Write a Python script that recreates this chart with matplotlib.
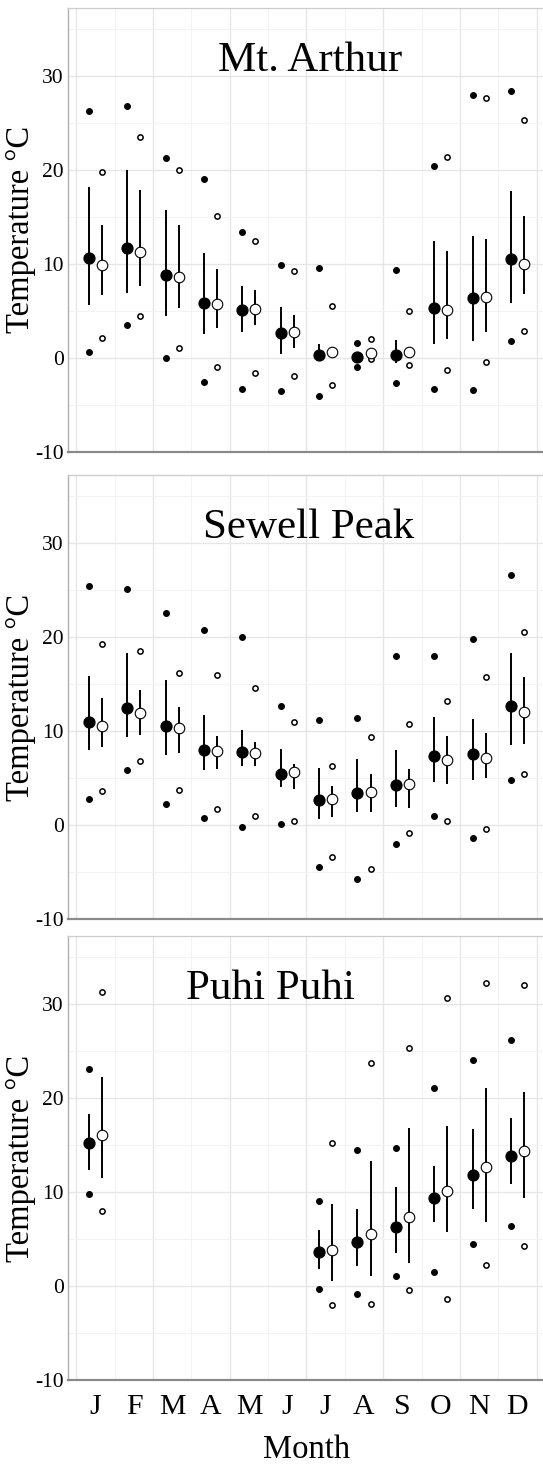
import numpy as np
import matplotlib
matplotlib.use("Agg")
import matplotlib.pyplot as plt

plt.rcParams['font.family'] = ['Liberation Serif', 'DejaVu Serif']
plt.rcParams['axes.unicode_minus'] = False

nan = np.nan
months = np.arange(1, 13)
month_labels = ["J", "F", "M", "A", "M", "J", "J", "A", "S", "O", "N", "D"]
sites = ["Mt. Arthur", "Sewell Peak", "Puhi Puhi"]

# filled series (black) and open series (white): mean, bar low/high, extreme min/max
arthur_f_mean = [10.6, 11.7, 8.8, 5.8, 5.1, 2.6, 0.3, 0.1, 0.3, 5.3, 6.4, 10.5]
arthur_f_lo = [5.6, 6.9, 4.4, 2.5, 2.8, 0.4, -0.2, -0.2, -0.5, 1.5, 1.8, 5.8]
arthur_f_hi = [18.2, 20.0, 15.7, 11.1, 7.6, 5.4, 1.5, 0.5, 1.9, 12.4, 13.0, 17.7]
arthur_f_min = [0.6, 3.5, 0.0, -2.6, -3.3, -3.5, -4.1, -1.0, -2.7, -3.3, -3.4, 1.8]
arthur_f_max = [26.2, 26.8, 21.2, 19.0, 13.4, 9.9, 9.5, 1.6, 9.3, 20.4, 27.9, 28.4]

arthur_o_mean = [9.9, 11.3, 8.6, 5.7, 5.2, 2.7, 0.6, 0.5, 0.6, 5.1, 6.5, 10.0]
arthur_o_lo = [6.7, 7.6, 5.3, 3.2, 3.5, 1.1, 0.2, 0.2, 0.3, 2.0, 2.7, 6.8]
arthur_o_hi = [14.1, 17.8, 14.1, 9.4, 7.2, 4.6, 0.9, 0.8, 0.9, 11.4, 12.6, 15.1]
arthur_o_min = [2.1, 4.5, 1.0, -1.0, -1.6, -1.9, -2.9, -0.1, -0.8, -1.3, -0.4, 2.9]
arthur_o_max = [19.8, 23.5, 20.0, 15.1, 12.4, 9.2, 5.5, 2.0, 5.0, 21.4, 27.6, 25.3]

sewell_f_mean = [10.9, 12.4, 10.5, 8.0, 7.8, 5.4, 2.7, 3.4, 4.2, 7.3, 7.5, 12.6]
sewell_f_lo = [8.0, 9.4, 7.4, 5.8, 6.3, 4.0, 0.6, 1.4, 1.9, 4.6, 4.8, 8.5]
sewell_f_hi = [15.8, 18.3, 15.4, 11.7, 10.1, 8.1, 6.1, 7.0, 8.0, 11.5, 11.3, 18.3]
sewell_f_min = [2.8, 5.8, 2.2, 0.7, -0.25, 0.1, -4.5, -5.7, -2.0, 0.9, -1.4, 4.8]
sewell_f_max = [25.4, 25.1, 22.5, 20.7, 20.0, 12.6, 11.2, 11.4, 18.0, 18.0, 19.8, 26.6]

sewell_o_mean = [10.5, 11.9, 10.3, 7.9, 7.7, 5.6, 2.8, 3.5, 4.3, 6.9, 7.1, 12.0]
sewell_o_lo = [8.3, 9.6, 7.7, 5.9, 6.3, 3.8, 0.8, 1.4, 1.8, 4.4, 5.0, 8.6]
sewell_o_hi = [13.5, 14.3, 12.5, 9.5, 8.8, 6.5, 4.1, 5.4, 6.0, 9.5, 9.8, 15.7]
sewell_o_min = [3.6, 6.8, 3.7, 1.7, 0.9, 0.4, -3.4, -4.7, -0.85, 0.4, -0.4, 5.4]
sewell_o_max = [19.2, 18.5, 16.2, 15.9, 14.6, 10.9, 6.3, 9.3, 10.7, 13.2, 15.7, 20.5]

puhi_f_mean = [15.2, nan, nan, nan, nan, nan, 3.6, 4.7, 6.3, 9.4, 11.8, 13.8]
puhi_f_lo = [12.3, nan, nan, nan, nan, nan, 1.8, 2.1, 3.5, 6.8, 8.2, 10.8]
puhi_f_hi = [18.3, nan, nan, nan, nan, nan, 5.9, 8.2, 10.5, 12.8, 16.7, 17.9]
puhi_f_min = [9.8, nan, nan, nan, nan, nan, -0.3, -0.9, 1.1, 1.5, 4.5, 6.4]
puhi_f_max = [23.1, nan, nan, nan, nan, nan, 9.0, 14.5, 14.7, 21.0, 24.0, 26.1]

puhi_o_mean = [16.0, nan, nan, nan, nan, nan, 3.8, 5.5, 7.3, 10.1, 12.7, 14.3]
puhi_o_lo = [11.5, nan, nan, nan, nan, nan, 0.5, 1.1, 2.4, 5.7, 6.8, 9.4]
puhi_o_hi = [22.2, nan, nan, nan, nan, nan, 8.7, 13.3, 16.8, 17.0, 21.1, 20.6]
puhi_o_min = [8.0, nan, nan, nan, nan, nan, -2.0, -1.9, -0.4, -1.4, 2.2, 4.2]
puhi_o_max = [31.3, nan, nan, nan, nan, nan, 15.2, 23.7, 25.3, 30.6, 32.2, 32.0]

title_x = [6.6, 6.55, 5.55]
title_y = 31.6


def draw_series(ax, x, mean, lo, hi, mn, mx, face):
    x = np.asarray(x)
    ax.vlines(x, lo, hi, color="black", linewidth=1.4, zorder=3)
    if face == "black":
        ax.plot(x, mn, "o", ms=4.0, color="black", zorder=4)
        ax.plot(x, mx, "o", ms=4.0, color="black", zorder=4)
        ax.plot(x, mean, "o", ms=7.8, color="black", zorder=5)
    else:
        ax.plot(x, mn, "o", ms=3.8, mfc="white", mec="black", mew=1.1, zorder=4)
        ax.plot(x, mx, "o", ms=3.8, mfc="white", mec="black", mew=1.1, zorder=4)
        ax.plot(x, mean, "o", ms=7.6, mfc="white", mec="black", mew=0.8, zorder=5)


def style_axes(ax, last):
    ax.set_xlim(0.28, 12.72)
    ax.set_ylim(-10, 37.2)
    ax.set_xticks(np.arange(0.5, 13, 2))
    ax.set_xticks(np.arange(1.5, 13, 2), minor=True)
    ax.set_yticks([-10, 0, 10, 20, 30])
    ax.set_yticks([-5, 5, 15, 25, 35], minor=True)
    ax.grid(which="major", color="#e6e6e6", linewidth=1.0)
    ax.grid(which="minor", color="#f3f3f3", linewidth=0.8)
    ax.set_axisbelow(True)
    ax.tick_params(which="both", length=0)
    ax.tick_params(axis="y", labelsize=15.5, pad=3)
    ax.set_xticklabels([])
    ax.spines["right"].set_visible(False)
    ax.spines["left"].set_color("#b0b0b0")
    ax.spines["left"].set_linewidth(1.0)
    ax.spines["top"].set_color("#cccccc")
    ax.spines["top"].set_linewidth(0.9)
    ax.spines["bottom"].set_color("#8a8a8a")
    ax.spines["bottom"].set_linewidth(1.6)
    ax.set_ylabel("Temperature °C", fontsize=23.5)
    ax.yaxis.set_label_coords(-0.068, 0.5)
    if last:
        sec = ax.secondary_xaxis("bottom")
        sec.set_xticks(months)
        sec.set_xticklabels(month_labels, fontsize=21.5)
        sec.tick_params(length=0, pad=10)
        sec.spines["bottom"].set_visible(False)


fig = plt.figure(figsize=(5.43, 14.73), dpi=100)
fig.patch.set_facecolor("white")

bottoms = [0.6932, 0.3761, 0.0631]
panels = [
    (arthur_f_mean, arthur_f_lo, arthur_f_hi, arthur_f_min, arthur_f_max,
     arthur_o_mean, arthur_o_lo, arthur_o_hi, arthur_o_min, arthur_o_max),
    (sewell_f_mean, sewell_f_lo, sewell_f_hi, sewell_f_min, sewell_f_max,
     sewell_o_mean, sewell_o_lo, sewell_o_hi, sewell_o_min, sewell_o_max),
    (puhi_f_mean, puhi_f_lo, puhi_f_hi, puhi_f_min, puhi_f_max,
     puhi_o_mean, puhi_o_lo, puhi_o_hi, puhi_o_min, puhi_o_max),
]

for i, site in enumerate(sites):
    ax = fig.add_axes([0.1252, bottoms[i], 0.8785, 0.3014])
    d = panels[i]
    draw_series(ax, months - 0.17, d[0], d[1], d[2], d[3], d[4], "black")
    draw_series(ax, months + 0.17, d[5], d[6], d[7], d[8], d[9], "white")
    ax.text(title_x[i], title_y, site, fontsize=31, ha="center", va="center")
    style_axes(ax, i == 2)

fig.text(0.5649, 0.0155, "Month", fontsize=23.5, ha="center", va="center")

fig.savefig("out.png", dpi=100)
